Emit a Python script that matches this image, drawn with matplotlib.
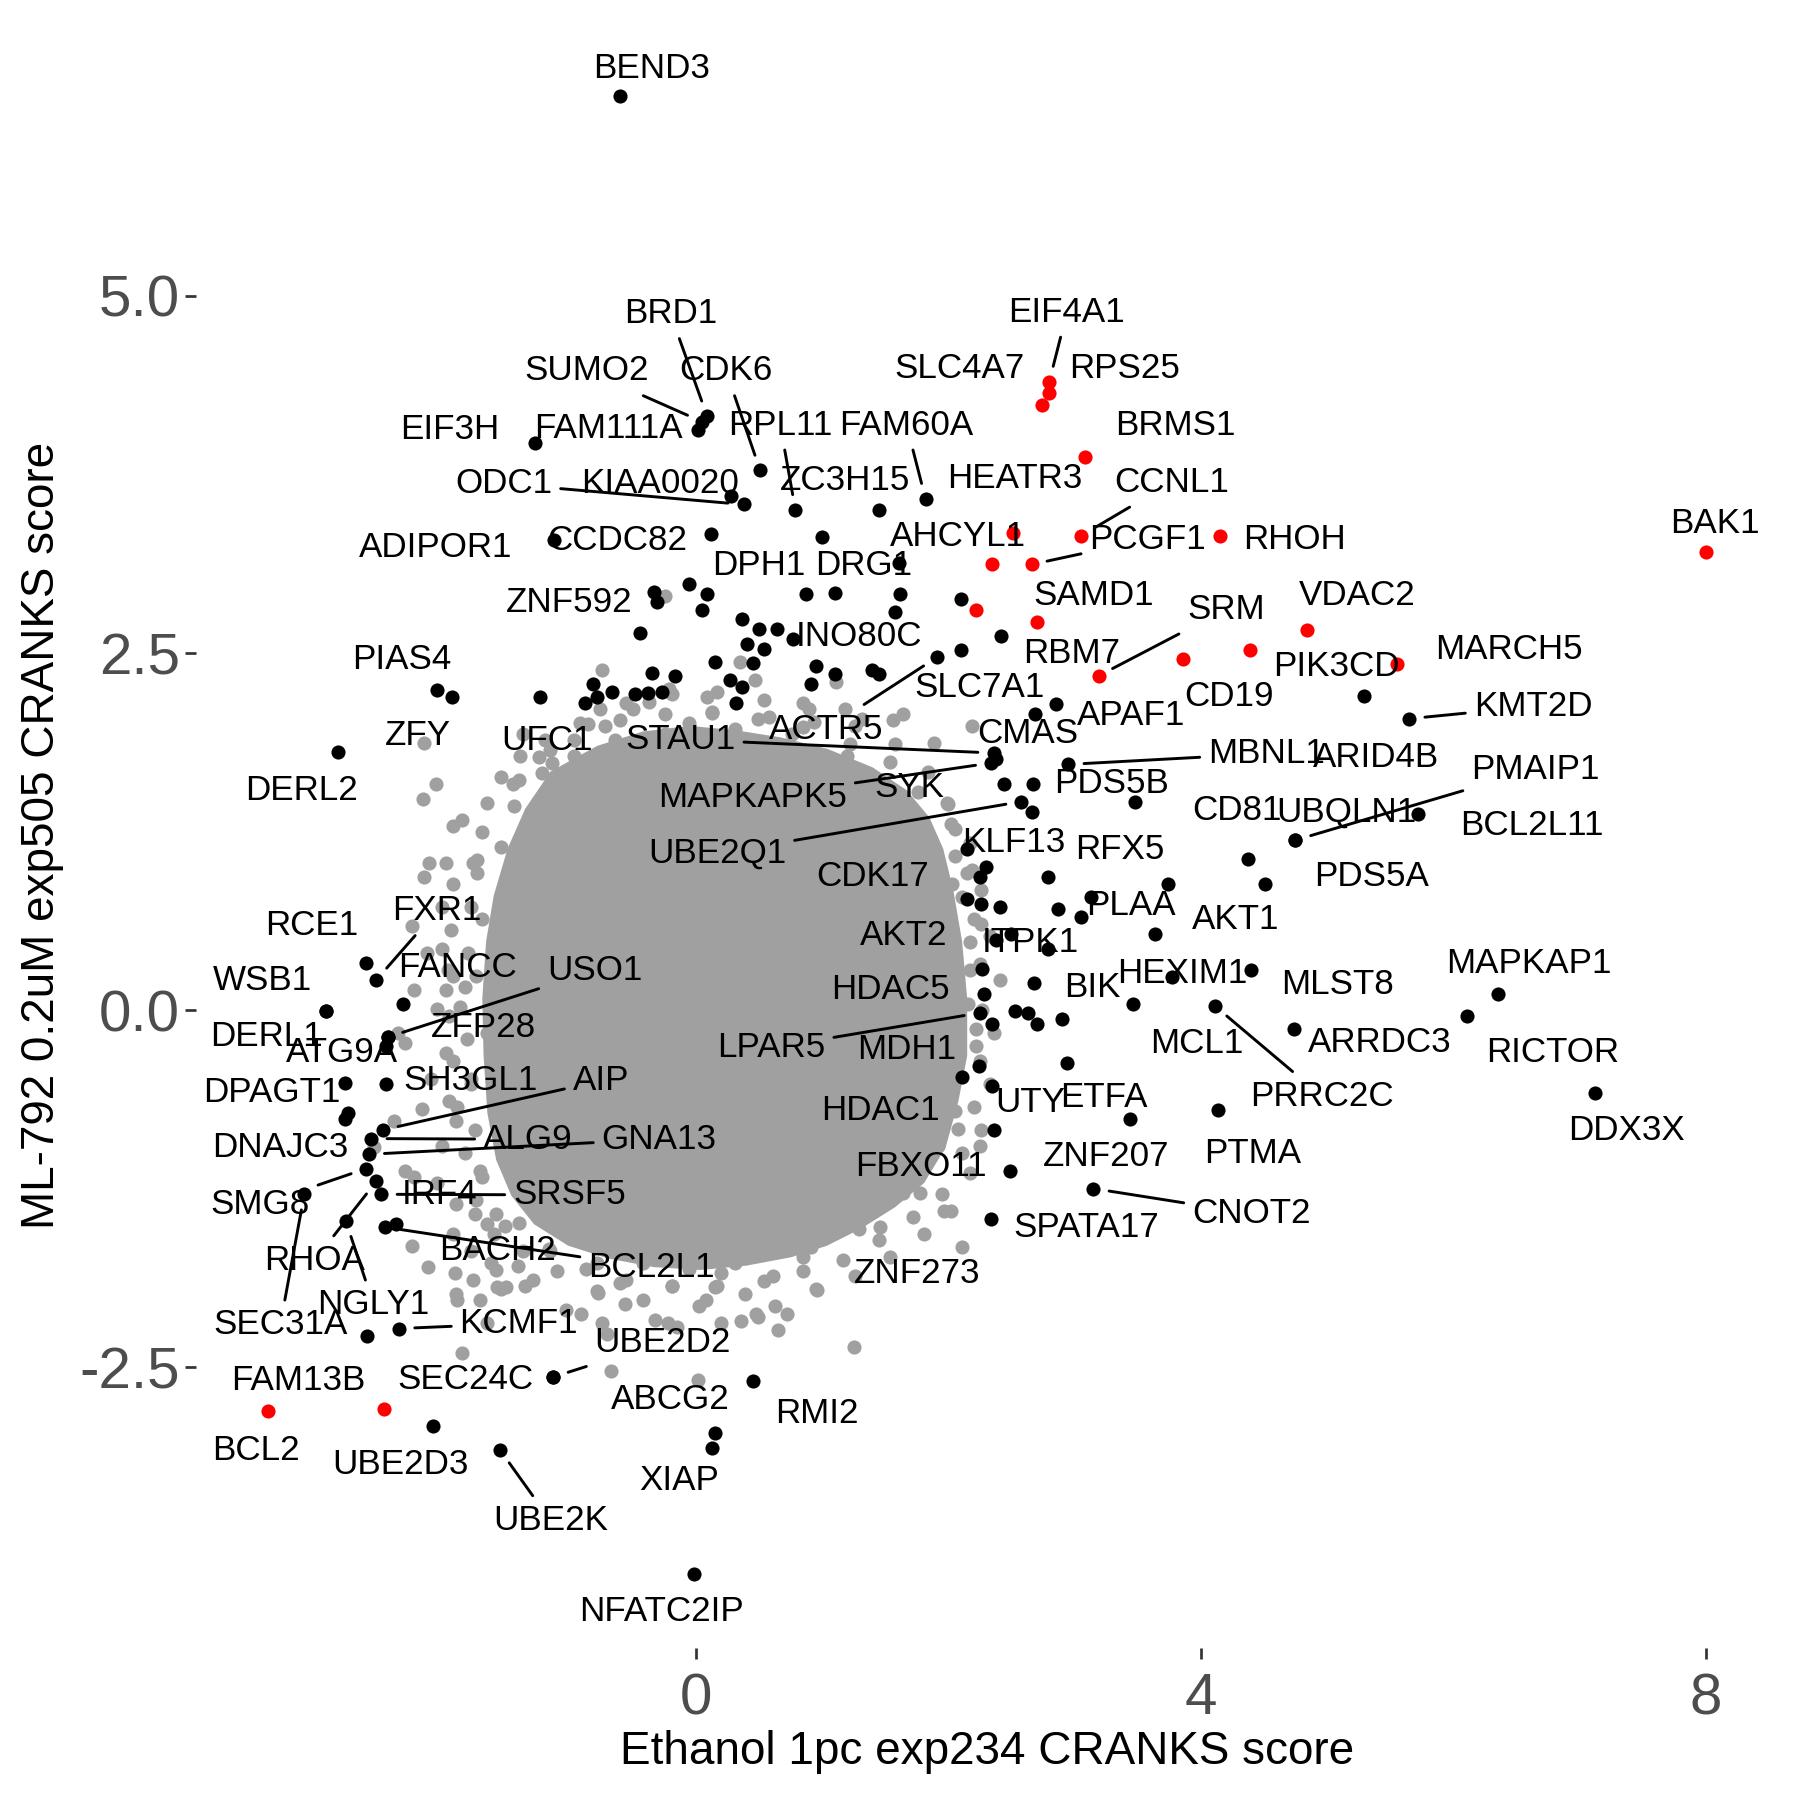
import matplotlib.pyplot as plt

plt.rcParams['font.family'] = ['Liberation Sans', 'DejaVu Sans']

# solid centre of the background (non-hit) genes, traced as an outline
core_x = [-1.35, -1.15, -0.78, -0.42, -0.05, 0.31, 0.67, 1.04, 1.40, 1.67, 1.85,
          1.96, 2.04, 2.11, 2.15, 2.15, 2.08, 1.98, 1.81,
          1.58, 1.31, 1.04, 0.76, 0.40, 0.04, -0.33, -0.69, -1.01, -1.28,
          -1.46, -1.58, -1.65, -1.68, -1.69, -1.66, -1.60, -1.49]
core_y = [1.41, 1.67, 1.85, 1.95, 1.99, 1.96, 1.91, 1.83, 1.70, 1.54, 1.35,
          1.13, 0.84, 0.48, 0.08, -0.32, -0.64, -0.96, -1.21,
          -1.38, -1.53, -1.65, -1.73, -1.79, -1.82, -1.80, -1.74, -1.65, -1.50,
          -1.30, -1.05, -0.72, -0.32, 0.08, 0.48, 0.80, 1.13]

# background genes on the ragged rim of the centre (inner and outer ring)
rim_x = [-1.78, -1.80, -1.83, -1.81, -1.78, -1.75, -1.69, -1.58,
         -1.24, -0.96, -0.60, -0.24, 0.13, 0.49, 0.85, 1.22, 1.54, 1.76,
         2.05, 2.15, 2.20, 2.25, 2.27, 2.25, 2.20, 2.11, 1.95,
         1.72, 1.45, 1.17, 0.85, 0.54, 0.17, -0.19, -0.55, -0.87, -1.16, -1.40]
rim_y = [0.72, 0.40, 0.16, -0.20, -0.52, -0.84, -1.17, -1.43,
         1.77, 1.89, 2.03, 2.07, 2.09, 2.04, 1.98, 1.86, 1.74, 1.53,
         1.27, 0.96, 0.64, 0.32, 0.00, -0.36, -0.68, -1.00, -1.29,
         -1.45, -1.61, -1.75, -1.83, -1.90, -1.93, -1.93, -1.89, -1.81, -1.67, -1.49]
rim2_x = [-1.92, -1.94, -1.96, -1.95, -1.92, -1.89, -1.83, -1.74, -1.60,
          -1.40, -1.19, -0.92, -0.55, -0.19, 0.17, 0.54, 0.90, 1.26, 1.58, 1.84, 1.99,
          2.17, 2.26, 2.33, 2.36, 2.33, 2.26, 2.17, 2.02,
          1.81, 1.54, 1.26, 0.95, -0.42, -0.78, -1.10, -1.37, -1.51]
rim2_y = [0.88, 0.56, 0.28, -0.04, -0.36, -0.68, -1.00, -1.33, -1.57,
          1.61, 1.89, 2.01, 2.15, 2.21, 2.23, 2.17, 2.11, 1.99, 1.86, 1.67, 1.45,
          1.17, 0.84, 0.52, -0.16, -0.52, -0.84, -1.14, -1.41,
          -1.57, -1.73, -1.86, -1.95, -2.03, -1.97, -1.83, -1.69, -1.51]

# background genes scattered further out
bg_top_x = [-0.24, -0.74, -0.50, -0.37, -0.21, 0.09, -0.76, -0.72, -0.85, -2.15, -1.39, -1.14,
            -0.96, -1.54, -2.06, -0.78, -0.64, -1.15, 0.13, 0.35, 0.47, 1.11, 1.56, 1.89, 2.19,
            1.18, 0.94, -1.05, -1.22, -1.73, -1.54, -1.44, 1.32, 1.64, 1.20, 2.02, -0.24, 0.31,
            0.76, -0.46, -0.05, 0.58, 0.85]
bg_top_y = [2.90, 2.38, 2.11, 2.16, 2.25, 2.19, 2.11, 1.99, 2.00, 1.87, 1.78, 1.73, 1.78, 1.63,
            1.58, 1.73, 1.89, 1.82, 2.08, 2.44, 2.31, 2.30, 2.03, 1.87, 1.99, 2.11, 2.02, 1.53,
            1.66, 1.05, 1.14, 1.43, 2.04, 2.07, 1.78, 1.30, 1.93, 1.97, 1.93, 1.85, 2.01, 2.05,
            2.15]
bg_left_x = [-2.16, -1.85, -1.45, -2.11, -1.98, -1.76, -2.15, -1.73, -2.25, -2.01, -2.23, -1.98,
             -2.05, -1.87, -2.30, -1.98, -2.17, -2.39, -1.90, -2.55, -2.01, -2.23, -2.30, -1.90,
             -1.75, -1.65, -2.25, -2.12, -1.62, -1.90, -1.76, -1.57, -2.36, -1.69, -1.74, -1.78,
             -1.71, -1.65, -1.92, -1.69, -2.01, -2.13, -1.92, -2.10, -1.95, -2.05, -1.92, -1.78,
             -1.37, -1.65]
bg_left_y = [1.48, 1.33, 1.58, 1.03, 1.03, 1.03, 0.93, 0.96, 0.59, 0.43, 0.14, 0.14, 0.01, 0.02,
             -0.23, -0.30, -0.69, -0.78, -0.78, -0.96, -0.95, -1.17, -1.13, -1.36, -1.43, -1.50,
             -1.65, -1.80, -1.77, -1.99, -1.89, -1.94, -0.16, 0.64, 0.24, -0.48, -1.13, -0.16,
             1.29, 1.25, 0.72, 0.40, 0.24, -0.48, -0.64, -1.21, -1.57, -1.69,
             1.93, 1.45]
bg_bottom_x = [-1.89, -1.71, -1.54, -1.35, -1.03, -0.91, -0.77, -0.56, -0.70, -0.32, -1.85, -0.67,
               0.02, -0.15, -1.65, -1.91, -1.58, -1.41, -1.29, -1.50, -0.74, -0.22, 0.20, 0.03,
               0.08, 0.15, 0.20, 0.39, 0.48, 0.61, 0.63, 0.72, 0.65, 0.76, 0.91, 0.96, 1.08, 1.17,
               1.29, 1.46, 1.54, 1.64, 1.78, 1.97, 2.11, 1.25, -1.15, -0.78, -0.42, -0.05, 0.31,
               0.49, 0.85, -0.60, -0.19, 0.49, 0.36]
bg_bottom_y = [-2.03, -2.03, -1.95, -1.93, -2.10, -2.13, -1.98, -2.06, -2.27, -2.17, -2.40, -2.53,
               -2.59, -2.22, -2.19, -1.84, -1.82, -1.79, -1.89, -1.94, -2.19, -2.19, -2.19, -2.07,
               -2.03, -1.94, -1.84, -1.99, -2.13, -1.86, -2.07, -2.13, -2.24, -1.66, -1.66, -1.96,
               -1.56, -1.45, -1.53, -1.52, -1.24, -1.28, -1.28, -1.41, -1.66, -2.36, -1.69, -1.77,
               -1.77, -1.81, -1.77, -1.69, -1.73, -1.91, -1.93, -2.15, -2.18]
bg_right_x = [2.00, 2.05, 2.19, 2.03, 2.11, 2.41, 2.16, 2.22, 2.22, 2.05, 2.08, 1.92, 2.25, 1.95,
              2.06, 2.17, 2.17, 2.26]
bg_right_y = [1.44, 1.08, 0.98, 0.88, 0.79, 0.21, 0.04, -0.13, -0.25, -0.71, -0.83, -0.95, -0.95,
              -0.42, -0.44, 0.48, 0.28, 0.60]

# hits without a label
other_x = [-0.31, -0.05, 0.09, 0.05, -0.44, 0.15, 0.87, 1.10, 1.62, 1.58, 2.10, 0.37, 0.50, 0.64,
           0.41, 0.54, 0.45, 0.27, 0.37, 0.32, 0.95, 0.91, 1.10, 1.40, 1.45, 2.42, -0.81, -0.88,
           -0.78, -0.66, -0.48, -0.38, -0.35, -0.27, -0.16, 2.38, 2.66, 3.48, 2.30, 2.15, 2.26,
           2.41, 2.87, 3.05, 3.64, 2.79, 2.28, 2.53, 2.63, 2.70, 2.90, 2.24, -2.60]
other_y = [2.86, 2.98, 2.91, 2.80, 2.64, 2.44, 2.91, 2.92, 2.91, 2.79, 2.88, 2.74, 2.67, 2.67,
           2.56, 2.53, 2.43, 2.31, 2.26, 2.15, 2.41, 2.28, 2.35, 2.38, 2.35, 2.62, 2.28, 2.15,
           2.19, 2.23, 2.21, 2.22, 2.36, 2.23, 2.34, 1.76, 1.39, 1.46, 1.00, 0.78, 0.74, 0.72,
           0.71, 0.65, 0.53, 0.43, 0.11, -0.01, -0.02, -0.10, -0.06, -0.39, -2.28]

# labelled genes
genes = ['BEND3', 'BRD1', 'SUMO2', 'FAM111A', 'CDK6', 'EIF3H', 'ODC1', 'KIAA0020', 'RPL11',
         'FAM60A', 'ZC3H15', 'ADIPOR1', 'CCDC82', 'DPH1', 'DRG1', 'ZNF592', 'INO80C', 'PIAS4',
         'ZFY', 'DERL2', 'UFC1', 'STAU1', 'ACTR5', 'SLC7A1', 'CMAS', 'APAF1', 'MBNL1', 'PDS5B',
         'SYK', 'MAPKAPK5', 'UBE2Q1', 'KLF13', 'CDK17', 'RFX5', 'PLAA', 'AKT2', 'ITPK1', 'HDAC5',
         'BIK', 'HEXIM1', 'LPAR5', 'MDH1', 'HDAC1', 'UTY', 'ETFA', 'FBXO11', 'ZNF207', 'CNOT2',
         'SPATA17', 'ZNF273', 'PMAIP1', 'BCL2L11', 'UBQLN1', 'CD81', 'PDS5A', 'AKT1', 'MLST8',
         'MCL1', 'PRRC2C', 'ARRDC3', 'RICTOR', 'MAPKAP1', 'DDX3X', 'PTMA', 'ARID4B', 'KMT2D',
         'EIF4A1', 'RPS25', 'SLC4A7', 'BRMS1', 'HEATR3', 'AHCYL1', 'CCNL1', 'PCGF1', 'RHOH',
         'SAMD1', 'RBM7', 'SRM', 'CD19', 'PIK3CD', 'VDAC2', 'MARCH5', 'BAK1', 'BCL2', 'FAM13B',
         'RCE1', 'FXR1', 'WSB1', 'DERL1', 'FANCC', 'USO1', 'ATG9A', 'ZFP28', 'DPAGT1', 'SH3GL1',
         'AIP', 'DNAJC3', 'ALG9', 'GNA13', 'SMG8', 'RHOA', 'SRSF5', 'IRF4', 'SEC31A', 'NGLY1',
         'BACH2', 'BCL2L1', 'KCMF1', 'SEC24C', 'UBE2D2', 'UBE2D3', 'UBE2K', 'ABCG2', 'XIAP',
         'RMI2', 'NFATC2IP']
gene_x = [-0.60, 0.09, 0.05, 0.02, 0.51, -1.27, 0.38, 0.28, 0.79,
          1.82, 1.45, -1.12, 0.12, 1.00, 1.61, -0.33, 0.77, -2.05,
          -1.93, -2.83, -1.23, 2.36, 1.91, 2.10, 2.69, 2.85, 2.95, 2.67,
          2.44, 2.34, 2.58, 2.15, 2.25, 2.79, 3.13, 2.38, 2.50, 2.27,
          2.68, 3.77, 2.25, 2.35, 2.11, 2.35, 2.94, 2.49, 3.44, 3.15,
          2.34, 2.36, 4.75, 5.72, 4.75, 4.37, 4.51, 3.74, 4.40,
          3.46, 4.11, 4.74, 6.11, 6.35, 7.12, 4.14, 5.29, 5.65,
          2.80, 2.80, 2.74, 3.08, 2.51, 2.35, 3.05, 2.66, 4.15,
          2.70, 2.22, 3.19, 3.86, 4.39, 4.84, 5.55, 8.00, -3.39, -2.47,
          -2.61, -2.53, -2.93, -2.93, -2.32, -2.44, -2.45, -2.44, -2.78, -2.45,
          -2.48, -2.75, -2.57, -2.59, -2.61, -2.53, -2.49, -2.78, -3.10, -2.77,
          -2.37, -2.46, -2.35, -1.13, -1.13, -2.08, -1.55, 0.15, 0.13,
          0.45, -0.01]
gene_y = [6.40, 4.16, 4.12, 4.06, 3.78, 3.97, 3.54, 3.60, 3.50,
          3.58, 3.50, 3.29, 3.33, 3.31, 3.13, 2.93, 2.60, 2.24,
          2.19, 1.81, 2.19, 1.80, 2.47, 2.52, 2.07, 2.14, 1.72, 1.58,
          1.58, 1.73, 1.46, 1.13, 0.93, 0.93, 0.79, 0.49, 0.53, 0.29,
          0.19, 0.23, -0.02, -0.10, -0.47, -0.53, -0.37, -1.13, -0.76, -1.25,
          -1.46, -0.84, 1.19, 1.37, 1.19, 1.06, 0.88, 0.88, 0.28,
          0.04, 0.03, -0.13, -0.04, 0.11, -0.58, -0.70, 2.20, 2.04,
          4.40, 4.32, 4.24, 3.87, 3.34, 3.12, 3.32, 3.12, 3.32,
          2.72, 2.80, 2.34, 2.46, 2.52, 2.66, 2.42, 3.21, -2.81, -2.79,
          0.33, 0.21, -0.01, -0.01, 0.04, -0.19, -0.25, -0.19, -0.51, -0.52,
          -0.84, -0.72, -0.90, -1.01, -1.11, -1.20, -1.29, -0.76, -1.29, -1.48,
          -1.50, -1.52, -2.23, -2.57, -2.57, -2.91, -3.08, -2.96, -3.07,
          -2.60, -3.95]
red_genes = {'EIF4A1', 'RPS25', 'SLC4A7', 'BRMS1', 'HEATR3', 'AHCYL1', 'CCNL1', 'PCGF1', 'RHOH',
             'SAMD1', 'RBM7', 'SRM', 'CD19', 'PIK3CD', 'VDAC2', 'MARCH5', 'BAK1', 'BCL2',
             'FAM13B'}

# label placement (repelled positions) and which labels get a connector
label_xy = {
    'BEND3': (-0.35, 6.62), 'BRD1': (-0.20, 4.90), 'SUMO2': (-0.86, 4.50),
    'FAM111A': (-0.69, 4.10), 'CDK6': (0.24, 4.50), 'EIF3H': (-1.95, 4.09),
    'ODC1': (-1.52, 3.71), 'KIAA0020': (-0.28, 3.71), 'RPL11': (0.67, 4.12),
    'FAM60A': (1.67, 4.12), 'ZC3H15': (1.18, 3.73), 'ADIPOR1': (-2.06, 3.26),
    'CCDC82': (-0.62, 3.31), 'DPH1': (0.50, 3.14), 'DRG1': (1.33, 3.14),
    'ZNF592': (-1.00, 2.88), 'INO80C': (1.29, 2.64), 'PIAS4': (-2.33, 2.48),
    'ZFY': (-2.20, 1.95), 'DERL2': (-3.12, 1.56), 'UFC1': (-1.18, 1.91),
    'STAU1': (-0.12, 1.92), 'ACTR5': (1.03, 1.99), 'SLC7A1': (2.25, 2.28),
    'CMAS': (2.63, 1.96), 'APAF1': (3.45, 2.09), 'MBNL1': (4.52, 1.82),
    'PDS5B': (3.29, 1.61), 'SYK': (1.69, 1.58), 'MAPKAPK5': (0.45, 1.51),
    'UBE2Q1': (0.17, 1.12), 'KLF13': (2.52, 1.20), 'CDK17': (1.40, 0.96),
    'RFX5': (3.36, 1.15), 'PLAA': (3.45, 0.76), 'AKT2': (1.65, 0.55),
    'ITPK1': (2.65, 0.50), 'HDAC5': (1.54, 0.17), 'BIK': (3.14, 0.18),
    'HEXIM1': (3.85, 0.28), 'LPAR5': (0.60, -0.24), 'MDH1': (1.67, -0.25),
    'HDAC1': (1.46, -0.68), 'UTY': (2.65, -0.62), 'ETFA': (3.23, -0.59),
    'FBXO11': (1.78, -1.07), 'ZNF207': (3.25, -1.00), 'CNOT2': (4.40, -1.40),
    'SPATA17': (3.09, -1.50), 'ZNF273': (1.75, -1.82), 'PMAIP1': (6.65, 1.71),
    'BCL2L11': (6.62, 1.32), 'UBQLN1': (5.15, 1.41), 'CD81': (4.29, 1.42),
    'PDS5A': (5.35, 0.96), 'AKT1': (4.28, 0.66), 'MLST8': (5.08, 0.20),
    'MCL1': (3.97, -0.21), 'PRRC2C': (4.96, -0.58), 'ARRDC3': (5.42, -0.20),
    'RICTOR': (6.79, -0.27), 'MAPKAP1': (6.60, 0.35), 'DDX3X': (7.37, -0.82),
    'PTMA': (4.41, -0.98), 'ARID4B': (5.39, 1.79), 'KMT2D': (6.63, 2.15),
    'EIF4A1': (2.94, 4.91), 'RPS25': (3.40, 4.52), 'SLC4A7': (2.09, 4.52),
    'BRMS1': (3.80, 4.12), 'HEATR3': (2.53, 3.75), 'AHCYL1': (2.08, 3.34),
    'CCNL1': (3.77, 3.72), 'PCGF1': (3.58, 3.32), 'RHOH': (4.74, 3.32),
    'SAMD1': (3.15, 2.93), 'RBM7': (2.98, 2.52), 'SRM': (4.20, 2.83),
    'CD19': (4.22, 2.22), 'PIK3CD': (5.07, 2.43), 'VDAC2': (5.24, 2.93),
    'MARCH5': (6.44, 2.55), 'BAK1': (8.07, 3.43), 'BCL2': (-3.48, -3.06),
    'FAM13B': (-3.15, -2.57), 'RCE1': (-3.04, 0.62), 'FXR1': (-2.05, 0.72),
    'WSB1': (-3.43, 0.23), 'DERL1': (-3.40, -0.16), 'FANCC': (-1.89, 0.32),
    'USO1': (-0.80, 0.30), 'ATG9A': (-2.80, -0.27), 'ZFP28': (-1.68, -0.10),
    'DPAGT1': (-3.36, -0.55), 'SH3GL1': (-1.78, -0.47), 'AIP': (-0.75, -0.47),
    'DNAJC3': (-3.29, -0.94), 'ALG9': (-1.33, -0.88), 'GNA13': (-0.29, -0.88),
    'SMG8': (-3.45, -1.34), 'RHOA': (-3.02, -1.73), 'SRSF5': (-1.00, -1.27),
    'IRF4': (-2.03, -1.27), 'SEC31A': (-3.29, -2.18), 'NGLY1': (-2.55, -2.04),
    'BACH2': (-1.57, -1.66), 'BCL2L1': (-0.35, -1.78), 'KCMF1': (-1.40, -2.17),
    'SEC24C': (-1.82, -2.56), 'UBE2D2': (-0.26, -2.30), 'UBE2D3': (-2.34, -3.16),
    'UBE2K': (-1.15, -3.55), 'ABCG2': (-0.20, -2.70), 'XIAP': (-0.13, -3.27),
    'RMI2': (0.96, -2.80), 'NFATC2IP': (-0.27, -4.19),
}
connected = {'BRD1', 'SUMO2', 'CDK6', 'ODC1', 'RPL11', 'FAM60A', 'STAU1', 'ACTR5', 'MBNL1',
             'MAPKAPK5', 'UBE2Q1', 'LPAR5', 'CNOT2', 'PMAIP1', 'PRRC2C', 'KMT2D', 'EIF4A1',
             'CCNL1', 'PCGF1', 'SRM', 'FXR1', 'USO1', 'AIP', 'ALG9', 'GNA13', 'SMG8', 'RHOA',
             'SRSF5', 'SEC31A', 'NGLY1', 'BCL2L1', 'KCMF1', 'UBE2D2', 'UBE2K'}

grey = '#A0A0A0'
dot = 11.5

fig = plt.figure(figsize=(6, 6), dpi=300)
ax = fig.add_axes([0.1087, 0.0842, 0.879, 0.9037])

ax.fill(core_x, core_y, color=grey, lw=0, zorder=1)
ax.scatter(rim_x + rim2_x + bg_top_x + bg_left_x + bg_bottom_x + bg_right_x,
           rim_y + rim2_y + bg_top_y + bg_left_y + bg_bottom_y + bg_right_y,
           s=dot, color=grey, linewidths=0, zorder=1)
ax.scatter(other_x, other_y, s=dot, color='black', linewidths=0, zorder=2)

blk = [i for i, g in enumerate(genes) if g not in red_genes]
red = [i for i, g in enumerate(genes) if g in red_genes]
ax.scatter([gene_x[i] for i in blk], [gene_y[i] for i in blk], s=dot, color='black',
           linewidths=0, zorder=2)
ax.scatter([gene_x[i] for i in red], [gene_y[i] for i in red], s=dot, color='#FF0000',
           linewidths=0, zorder=3)

for g, x, y in zip(genes, gene_x, gene_y):
    tx, ty = label_xy[g]
    if g in connected:
        ax.annotate(g, xy=(x, y), xytext=(tx, ty), ha='center', va='center_baseline',
                    fontsize=8.4, color='black', zorder=4,
                    arrowprops=dict(arrowstyle='-', color='black', lw=0.7,
                                    shrinkA=0, shrinkB=3.8))
    else:
        ax.text(tx, ty, g, ha='center', va='center_baseline', fontsize=8.4,
                color='black', zorder=4)

ax.set_xlim(-3.96, 8.57)
ax.set_ylim(-4.47, 6.92)
ax.set_xticks([0, 4, 8])
ax.set_xticklabels(['0', '4', '8'])
ax.set_yticks([5, 2.5, 0, -2.5])
ax.set_yticklabels(['5.0', '2.5', '0.0', '-2.5'])
for s in ax.spines.values():
    s.set_visible(False)
ax.tick_params(colors='#333333', length=2.75, width=0.65, labelcolor='#4D4D4D',
               labelsize=14)
ax.tick_params(axis='x', pad=3)
ax.tick_params(axis='y', pad=1)

ax.set_xlabel('Ethanol 1pc exp234 CRANKS score', fontsize=11)
ax.xaxis.set_label_coords(0.5, -0.0636)
ax.xaxis.label.set_va('center')
ax.set_ylabel('ML-792 0.2uM exp505 CRANKS score', fontsize=11)
ax.yaxis.set_label_coords(-0.0971, 0.5)
ax.yaxis.label.set_va('center')

fig.savefig('out.png', dpi=300)
plt.close(fig)
